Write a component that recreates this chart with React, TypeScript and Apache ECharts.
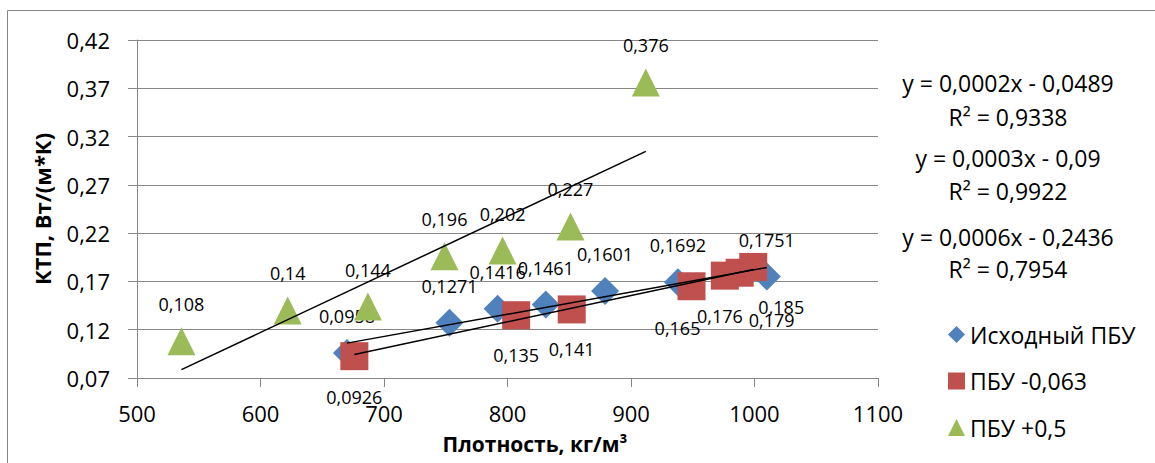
import React, { useEffect, useRef } from "react";
import * as echarts from "echarts";

// ---- data ----
const baseX = [670, 753, 792, 831, 879, 938, 1010];
const baseY = [0.0958, 0.1271, 0.1416, 0.1461, 0.1601, 0.1692, 0.1751];
const minusX = [676, 807, 852, 949, 976, 988, 999];
const minusY = [0.0926, 0.135, 0.141, 0.165, 0.176, 0.179, 0.185];
const plusX = [536, 622, 687, 749, 796, 851, 912];
const plusY = [0.108, 0.14, 0.144, 0.196, 0.202, 0.227, 0.376];

const seriesNames = ["Исходный ПБУ", "ПБУ -0,063", "ПБУ +0,5"];
const equationTexts = [
  "y = 0,0002x - 0,0489",
  "R² = 0,9338",
  "y = 0,0003x - 0,09",
  "R² = 0,9922",
  "y = 0,0006x - 0,2436",
  "R² = 0,7954",
];
const xTitle = "Плотность, кг/м³";
const yTitle = "КТП, Вт/(м*К)";

// ---- style ----
const FONT = "'Open Sans', sans-serif";
const GRAY = "#868686";
const BLUE = "#4F81BD";
const RED = "#C0504D";
const GREEN = "#9BBB59";
const equationY = [83, 117, 158, 191, 237, 269];
const redLabelShiftX = [0, 0, 0, -14, -5, 32, 28];
const redLabelShiftY = [41, 40, 40, 42, 40, 47, 40];

const fmt = (v: number) => String(v).replace(".", ",");

function trend(xs: number[], ys: number[]) {
  const n = xs.length;
  const mx = xs.reduce((a, b) => a + b, 0) / n;
  const my = ys.reduce((a, b) => a + b, 0) / n;
  let sxy = 0;
  let sxx = 0;
  for (let i = 0; i < n; i++) {
    sxy += (xs[i] - mx) * (ys[i] - my);
    sxx += (xs[i] - mx) * (xs[i] - mx);
  }
  const b = sxy / sxx;
  const a = my - b * mx;
  const x0 = Math.min(...xs);
  const x1 = Math.max(...xs);
  return [
    [x0, a + b * x0],
    [x1, a + b * x1],
  ];
}

const pairs = (xs: number[], ys: number[]) => xs.map((x, i) => [x, ys[i]]);

export default function App() {
  const ref = useRef<HTMLDivElement>(null);
  useEffect(() => {
    document.body.style.margin = "0";
    const chart = echarts.init(ref.current!, null, { renderer: "svg" });
    const labelBase = {
      show: true,
      position: "inside",
      color: "#000",
      fontFamily: FONT,
      fontSize: 18,
      formatter: (p: any) => fmt(p.value[1]),
    };
    const trendSeries = (xs: number[], ys: number[]) => ({
      type: "line",
      data: trend(xs, ys),
      showSymbol: false,
      symbol: "none",
      lineStyle: { color: "#000", width: 1.5 },
      silent: true,
      z: 5,
    });
    chart.setOption({
      animation: false,
      grid: { left: 137, right: 277, top: 40, bottom: 85 },
      xAxis: {
        type: "value",
        min: 500,
        max: 1100,
        interval: 100,
        axisLine: { show: true, lineStyle: { color: GRAY, width: 1 } },
        axisTick: { show: true, length: 9, lineStyle: { color: GRAY } },
        axisLabel: {
          color: "#000",
          fontFamily: FONT,
          fontSize: 22,
          margin: 24,
          formatter: (v: number) => String(v),
        },
        splitLine: { show: false },
      },
      yAxis: {
        type: "value",
        min: 0.07,
        max: 0.42,
        interval: 0.05,
        axisLine: { show: true, lineStyle: { color: GRAY, width: 1 } },
        axisTick: { show: true, length: 9, lineStyle: { color: GRAY } },
        axisLabel: {
          color: "#000",
          fontFamily: FONT,
          fontSize: 22,
          margin: 27,
          formatter: (v: number) => v.toFixed(2).replace(".", ","),
        },
        splitLine: { show: true, lineStyle: { color: GRAY, width: 1 } },
      },
      legend: {
        orient: "vertical",
        left: 943,
        top: 318,
        itemWidth: 17,
        itemHeight: 17,
        itemGap: 23.5,
        data: seriesNames,
        textStyle: { color: "#000", fontFamily: FONT, fontSize: 23, lineHeight: 23 },
      },
      series: [
        {
          name: seriesNames[0],
          type: "scatter",
          symbol: "diamond",
          symbolSize: 28,
          itemStyle: { color: BLUE, opacity: 1 },
          data: pairs(baseX, baseY),
          label: { ...labelBase, offset: [0, -37] },
          z: 2,
        },
        {
          name: seriesNames[1],
          type: "scatter",
          symbol: "rect",
          symbolSize: 28,
          itemStyle: { color: RED, opacity: 1 },
          data: pairs(minusX, minusY).map((d, i) => ({
            value: d,
            label: { offset: [redLabelShiftX[i], redLabelShiftY[i]] },
          })),
          label: { ...labelBase },
          z: 3,
        },
        {
          name: seriesNames[2],
          type: "scatter",
          symbol: "triangle",
          symbolSize: 28,
          itemStyle: { color: GREEN, opacity: 1 },
          data: pairs(plusX, plusY),
          label: { ...labelBase, offset: [0, -37] },
          z: 3,
        },
        trendSeries(baseX, baseY),
        trendSeries(minusX, minusY),
        trendSeries(plusX, plusY),
      ],
      graphic: [
        {
          type: "rect",
          shape: { x: 7.5, y: 10.5, width: 1300, height: 600 },
          style: { fill: "none", stroke: GRAY, lineWidth: 1 },
          silent: true,
        },
        {
          type: "text",
          x: 42,
          y: 209,
          rotation: Math.PI / 2,
          style: {
            text: yTitle,
            fill: "#000",
            font: `bold 22px ${FONT}`,
            textAlign: "center",
            textVerticalAlign: "middle",
          },
        },
        {
          type: "text",
          x: 535,
          y: 444,
          style: {
            text: xTitle,
            fill: "#000",
            font: `bold 21px ${FONT}`,
            textAlign: "center",
            textVerticalAlign: "middle",
          },
        },
        ...equationTexts.map((t, i) => ({
          type: "text",
          x: 1008,
          y: equationY[i],
          style: {
            text: t,
            fill: "#000",
            font: `23px ${FONT}`,
            textAlign: "center",
            textVerticalAlign: "middle",
          },
        })),
      ],
    });
    return () => chart.dispose();
  }, []);
  return (
    <div
      ref={ref}
      style={{ position: "absolute", left: 0, top: 0, width: 1155, height: 463 }}
    />
  );
}
